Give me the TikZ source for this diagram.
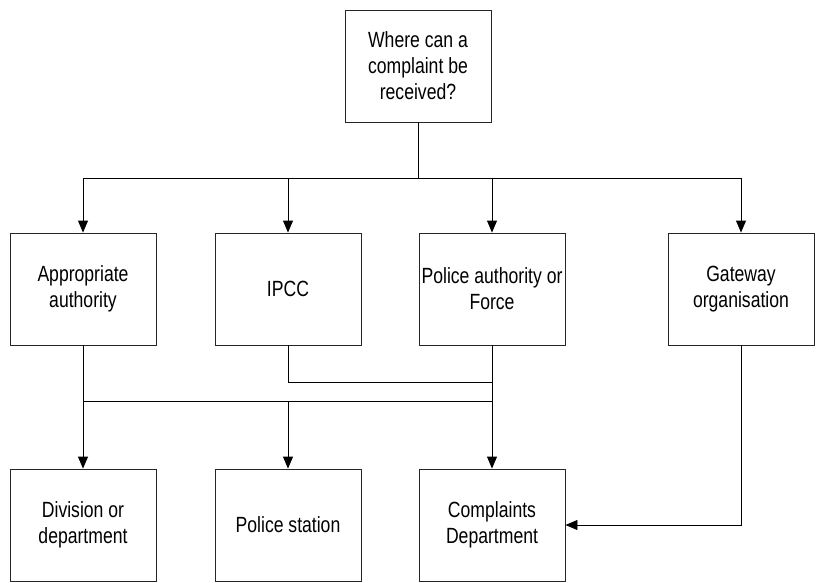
\documentclass[tikz,border=0pt]{standalone}
\usepackage{fontspec}
\setmainfont[FakeStretch=0.8]{Liberation Sans}
\usetikzlibrary{arrows.meta}
\begin{document}
\begin{tikzpicture}[x=1pt,y=-1pt,
  box/.style={draw=black!85, line width=0.9pt, minimum width=146pt, minimum height=112pt,
    inner sep=0pt, align=center, font=\fontsize{22}{26}\selectfont},
  link/.style={draw=black, line width=0.9pt},
  arr/.style={link, -{Triangle[length=12pt,width=10pt]}}]
\useasboundingbox (0,0) rectangle (816,583);
% question
\node[box] (q) at (418,66) {Where can a\\complaint be\\received?};
% receivers
\node[box] (aa) at (83,289) {Appropriate\\authority};
\node[box] (ipcc) at (288,289) {IPCC};
\node[box] (paf) at (492,289) {Police authority or\\Force};
\node[box] (gw) at (741,289) {Gateway\\organisation};
% destinations
\node[box] (div) at (83,525) {Division or\\department};
\node[box] (ps) at (288,525) {Police station};
\node[box] (cd) at (492,525) {Complaints\\Department};
% bus from the question
\coordinate (bus) at (418,178);
\draw[link] (q.south) -- (bus);
\draw[arr] (bus) -| (aa.north);
\draw[arr] (bus) -| (ipcc.north);
\draw[arr] (bus) -| (paf.north);
\draw[arr] (bus) -| (gw.north);
% second level
\coordinate (lowbus) at (83,401);
\coordinate (ipccbend) at (288,382);
\draw[link] (aa.south) -- (lowbus) -- (lowbus -| cd.north);
\draw[link] (ipcc.south) -- (ipccbend) -- (ipccbend -| cd.north);
\draw[arr] (lowbus) -- (div.north);
\draw[arr] (lowbus -| ps.north) -- (ps.north);
\draw[arr] (paf.south) -- (cd.north);
\draw[arr] (gw.south) |- (cd.east);
\end{tikzpicture}
\end{document}
